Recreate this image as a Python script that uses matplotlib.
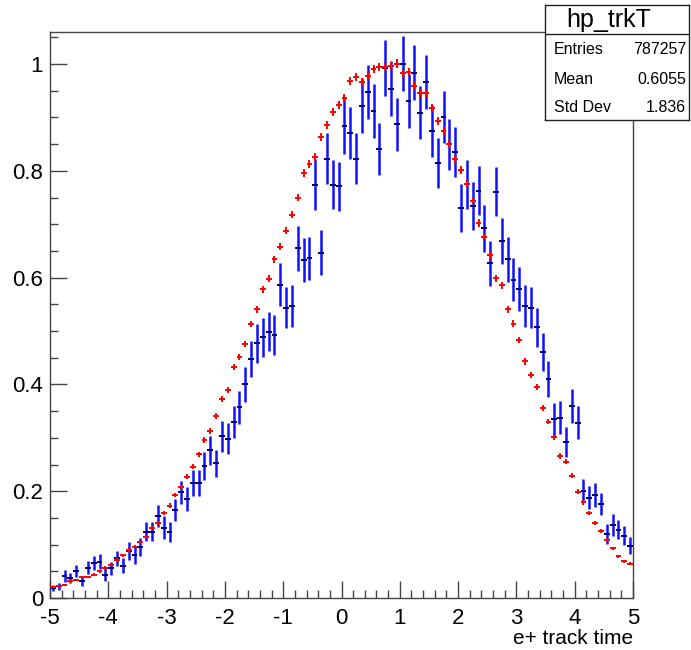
import numpy as np
import matplotlib
matplotlib.use('Agg')
import matplotlib.pyplot as plt
from matplotlib.ticker import MultipleLocator

plt.rcParams['font.family'] = ['Liberation Sans', 'DejaVu Sans']
plt.rcParams['axes.unicode_minus'] = False

# 100 bins from -5 to 5
edges = np.linspace(-5, 5, 101)
centers = 0.5 * (edges[:-1] + edges[1:])

# red histogram (high statistics), normalised to peak
red = [0.020, 0.022, 0.024, 0.031, 0.034, 0.039, 0.040, 0.044, 0.050, 0.057,
       0.062, 0.072, 0.080, 0.090, 0.096, 0.104, 0.115, 0.132, 0.140, 0.159,
       0.173, 0.193, 0.207, 0.227, 0.246, 0.269, 0.296, 0.313, 0.341, 0.372,
       0.390, 0.433, 0.451, 0.476, 0.513, 0.541, 0.578, 0.598, 0.634, 0.658,
       0.688, 0.718, 0.750, 0.796, 0.812, 0.826, 0.863, 0.885, 0.911, 0.923,
       0.937, 0.968, 0.976, 0.967, 0.978, 0.991, 0.994, 0.995, 0.996, 1.001,
       0.983, 0.985, 0.958, 0.945, 0.945, 0.917, 0.893, 0.875, 0.850, 0.822,
       0.801, 0.776, 0.744, 0.702, 0.677, 0.642, 0.599, 0.586, 0.541, 0.514,
       0.483, 0.443, 0.418, 0.395, 0.356, 0.330, 0.301, 0.266, 0.255, 0.229,
       0.199, 0.179, 0.159, 0.140, 0.125, 0.109, 0.093, 0.078, 0.069, 0.064]
red_err = [0.002, 0.002, 0.002, 0.002, 0.002, 0.002, 0.002, 0.002, 0.0025, 0.0025,
           0.0025, 0.0025, 0.003, 0.003, 0.003, 0.003, 0.0035, 0.0035, 0.0035, 0.004,
           0.004, 0.004, 0.0045, 0.0045, 0.0045, 0.005, 0.005, 0.005, 0.0055, 0.0055,
           0.0055, 0.006, 0.006, 0.006, 0.006, 0.0065, 0.0065, 0.0065, 0.0065, 0.007,
           0.007, 0.007, 0.007, 0.007, 0.0075, 0.0075, 0.0075, 0.0075, 0.0075, 0.0075,
           0.0075, 0.0075, 0.0075, 0.0075, 0.0075, 0.0075, 0.0075, 0.0075, 0.0075, 0.0075,
           0.0075, 0.0075, 0.0075, 0.0075, 0.0075, 0.0075, 0.0075, 0.0075, 0.0075, 0.0075,
           0.0075, 0.007, 0.007, 0.007, 0.007, 0.007, 0.0065, 0.0065, 0.0065, 0.006,
           0.006, 0.006, 0.006, 0.0055, 0.0055, 0.005, 0.005, 0.005, 0.0045, 0.0045,
           0.0045, 0.004, 0.004, 0.004, 0.0035, 0.0035, 0.003, 0.003, 0.003, 0.003]

# blue histogram (low statistics)
blue = [0.019, 0.022, 0.041, 0.0375, 0.051, 0.031, 0.057, 0.066, 0.068, 0.044,
        0.056, 0.074, 0.060, 0.088, 0.080, 0.095, 0.124, 0.124, 0.154, 0.132,
        0.123, 0.165, 0.198, 0.185, 0.215, 0.215, 0.247, 0.277, 0.252, 0.303,
        0.298, 0.330, 0.357, 0.400, 0.447, 0.477, 0.488, 0.499, 0.493, 0.587,
        0.544, 0.547, 0.655, 0.633, 0.636, 0.774, 0.647, 0.823, 0.774, 0.771,
        0.884, 0.871, 0.823, 0.922, 0.948, 0.912, 0.841, 0.993, 0.954, 0.887,
        1.001, 0.931, 0.984, 0.909, 0.966, 0.875, 0.815, 0.901, 0.850, 0.836,
        0.731, 0.775, 0.734, 0.763, 0.692, 0.627, 0.761, 0.669, 0.634, 0.596,
        0.579, 0.547, 0.544, 0.507, 0.461, 0.410, 0.335, 0.338, 0.293, 0.360,
        0.328, 0.201, 0.188, 0.193, 0.176, 0.120, 0.137, 0.128, 0.117, 0.098]
blue_err = [0.006, 0.007, 0.011, 0.009, 0.011, 0.009, 0.012, 0.013, 0.014, 0.012,
            0.012, 0.014, 0.014, 0.017, 0.016, 0.017, 0.018, 0.018, 0.021, 0.021,
            0.019, 0.021, 0.022, 0.022, 0.024, 0.024, 0.026, 0.027, 0.026, 0.029,
            0.029, 0.030, 0.031, 0.033, 0.034, 0.037, 0.037, 0.037, 0.037, 0.040,
            0.038, 0.039, 0.042, 0.041, 0.041, 0.048, 0.042, 0.047, 0.046, 0.046,
            0.052, 0.049, 0.047, 0.051, 0.051, 0.050, 0.048, 0.052, 0.051, 0.049,
            0.052, 0.051, 0.052, 0.049, 0.051, 0.049, 0.047, 0.049, 0.048, 0.047,
            0.045, 0.046, 0.045, 0.046, 0.044, 0.042, 0.046, 0.043, 0.042, 0.040,
            0.041, 0.039, 0.039, 0.037, 0.035, 0.033, 0.031, 0.031, 0.028, 0.032,
            0.031, 0.022, 0.022, 0.022, 0.021, 0.019, 0.020, 0.018, 0.017, 0.016]

fig = plt.figure(figsize=(6.91, 6.50), dpi=100)
ax = fig.add_axes([50/691, 52/650, 583/691, 566/650])

# blue: vertical error bars, darker bin-width ticks
ax.errorbar(centers, blue, yerr=blue_err, fmt='none', ecolor='#1010ff',
            elinewidth=1.8, capsize=0, zorder=2)
ax.errorbar(centers, blue, xerr=0.05, fmt='none', ecolor='#00006e',
            elinewidth=1.4, capsize=0, zorder=3)
# red: small crosses
ax.errorbar(centers, red, xerr=0.05, yerr=red_err, fmt='none', ecolor='#ff0000',
            elinewidth=1.4, capsize=0, zorder=4)

ax.set_xlim(-5, 5)
ax.set_ylim(0, 1.06)
ax.xaxis.set_minor_locator(MultipleLocator(0.2))
ax.yaxis.set_minor_locator(MultipleLocator(0.05))
ax.tick_params(which='both', direction='in', top=False, right=False,
               labelsize=16, width=1, color='#444444')
ax.tick_params(which='major', length=12)
ax.tick_params(which='minor', length=6)
ax.tick_params(axis='x', pad=7)
ax.tick_params(axis='y', pad=5)
ax.set_xticks(np.arange(-5, 6, 1))
ax.set_xticklabels([str(v) for v in range(-5, 6)])
ax.set_yticks([0, 0.2, 0.4, 0.6, 0.8, 1.0])
ax.set_yticklabels(['0', '0.2', '0.4', '0.6', '0.8', '1'])
for s in ax.spines.values():
    s.set_color('#444444')
    s.set_linewidth(1)
ax.set_xlabel('e+ track time', fontsize=15, loc='right', labelpad=0)

# stats box
sb = fig.add_axes([545/691, 1 - 120/650, 144/691, 115/650])
sb.set_xticks([])
sb.set_yticks([])
sb.set_xlim(0, 1)
sb.set_ylim(0, 1)
for s in sb.spines.values():
    s.set_color('#222222')
    s.set_linewidth(1)
sb.axhline(0.745, color='#222222', lw=1)
sb.text(0.44, 0.87, 'hp_trkT', ha='center', va='center', fontsize=18)
rows = [('Entries', '787257'), ('Mean', '0.6055'), ('Std Dev', '1.836')]
ys = [0.61, 0.35, 0.11]
for (lab, val), yy in zip(rows, ys):
    sb.text(0.06, yy, lab, ha='left', va='center', fontsize=11.5)
    sb.text(0.98, yy, val, ha='right', va='center', fontsize=11.5)

fig.savefig('out.png', dpi=100)
